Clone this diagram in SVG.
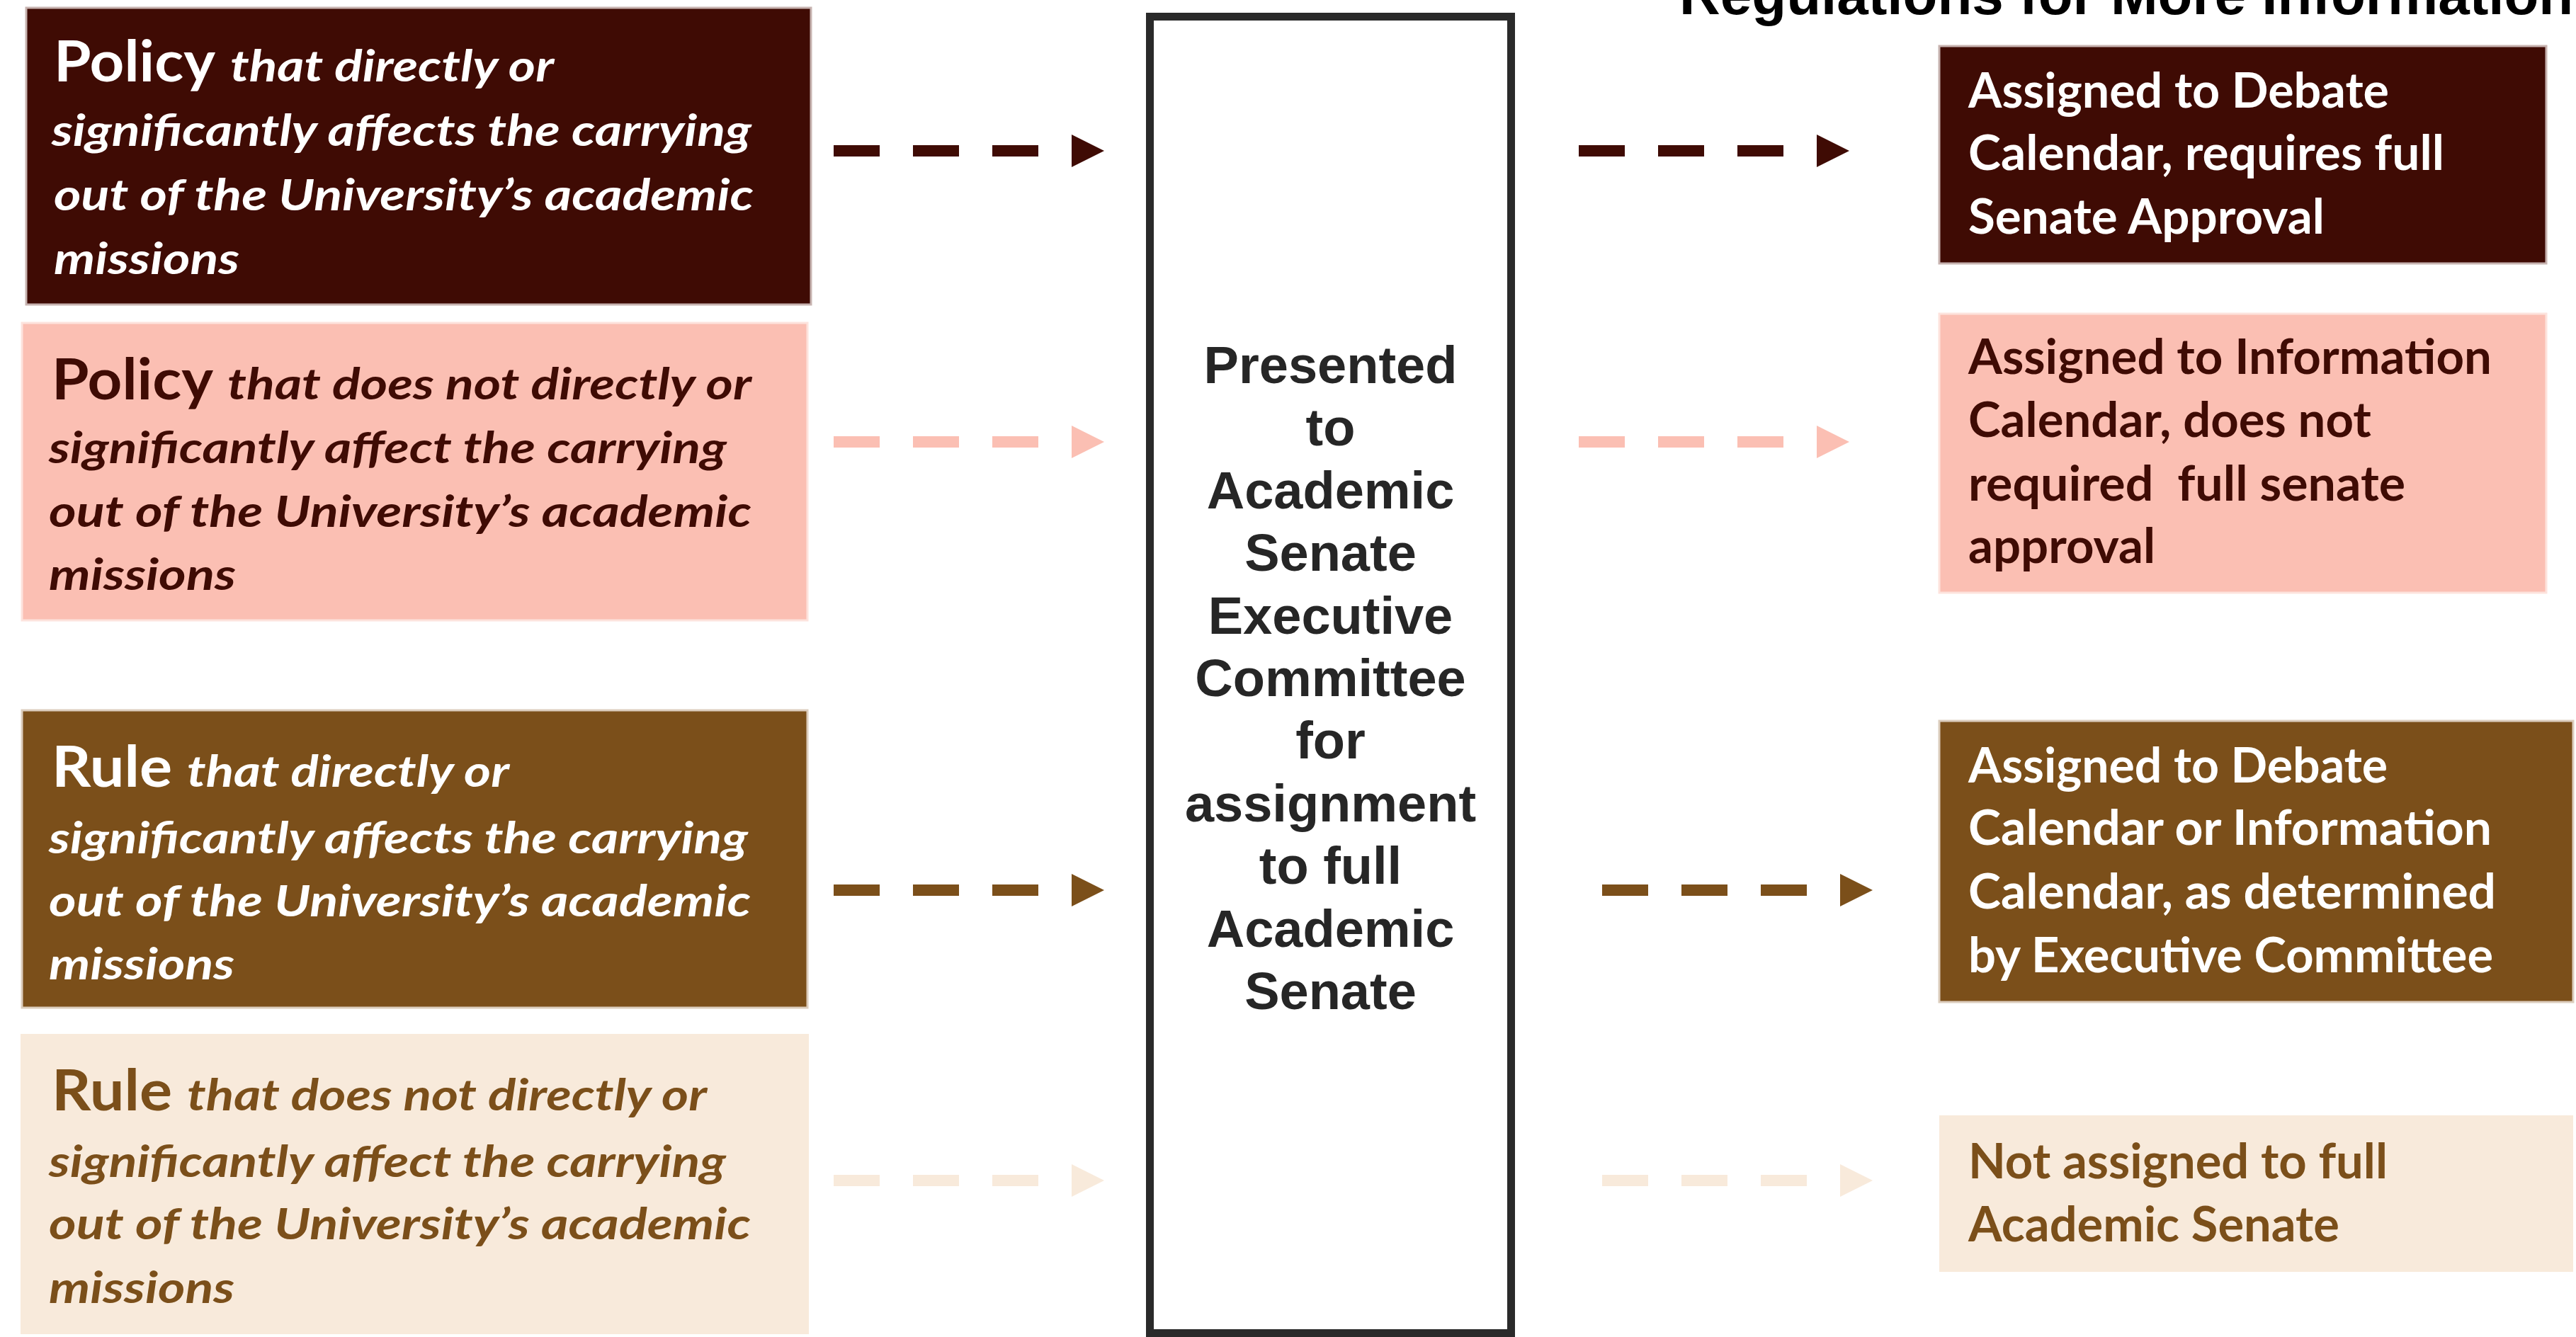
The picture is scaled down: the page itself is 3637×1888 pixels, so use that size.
<svg xmlns="http://www.w3.org/2000/svg" width="3637" height="1888" viewBox="0 0 3637 1888">
  <defs>
    <style>
      .cal { font-family: Lato, "Open Sans", "Liberation Sans", sans-serif; font-weight: 700; }
      .lead { font-size: 80px; }
      .body { font-size: 61px; font-style: italic; }
      .out { font-size: 68px; }
      .mid { font-family: "Liberation Sans", Arial, sans-serif; font-weight: 700; font-size: 74px; fill: #262626; text-anchor: middle; }
      .title { font-family: "Liberation Sans", Arial, sans-serif; font-weight: 700; font-size: 80px; fill: #000000; }
      .white { fill: #ffffff; }
      .maroon { fill: #3f0b04; }
      .brown { fill: #7b4f1a; }
      .dash { fill: none; stroke-width: 16; stroke-dasharray: 65 47; }
    </style>
    <marker id="head-maroon" markerUnits="userSpaceOnUse" markerWidth="46" markerHeight="46" refX="0" refY="23" orient="auto" viewBox="0 0 46 46">
      <polygon points="0,0 46,23 0,46" fill="#3f0b04"/>
    </marker>
    <marker id="head-pink" markerUnits="userSpaceOnUse" markerWidth="46" markerHeight="46" refX="0" refY="23" orient="auto" viewBox="0 0 46 46">
      <polygon points="0,0 46,23 0,46" fill="#fbbfb3"/>
    </marker>
    <marker id="head-brown" markerUnits="userSpaceOnUse" markerWidth="46" markerHeight="46" refX="0" refY="23" orient="auto" viewBox="0 0 46 46">
      <polygon points="0,0 46,23 0,46" fill="#7b4f1a"/>
    </marker>
    <marker id="head-beige" markerUnits="userSpaceOnUse" markerWidth="46" markerHeight="46" refX="0" refY="23" orient="auto" viewBox="0 0 46 46">
      <polygon points="0,0 46,23 0,46" fill="#f8eadb"/>
    </marker>
  </defs>

  <rect width="3637" height="1888" fill="#ffffff"/>

  <!-- heading, partly above the top edge -->
  <text class="title" x="2371" y="20">Regulations for More Information</text>

  <!-- left column: items entering review -->
  <g id="policy-significant">
    <rect x="37" y="11" width="1108" height="419" fill="#3f0b04" stroke="#c7b3b0" stroke-width="3"/>
    <text class="cal lead white" x="76" y="115" textLength="228" lengthAdjust="spacingAndGlyphs">Policy</text>
    <text class="cal body white" x="325" y="115" textLength="457" lengthAdjust="spacingAndGlyphs">that directly or</text>
    <text class="cal body white" x="73" y="206" textLength="988" lengthAdjust="spacingAndGlyphs">significantly affects the carrying</text>
    <text class="cal body white" x="76" y="297" textLength="988" lengthAdjust="spacingAndGlyphs">out of the University’s academic</text>
    <text class="cal body white" x="76" y="387" textLength="262" lengthAdjust="spacingAndGlyphs">missions</text>
  </g>

  <g id="policy-minor">
    <rect x="31" y="456" width="1109" height="420" fill="#fbbfb3" stroke="#fde3dd" stroke-width="3"/>
    <text class="cal lead maroon" x="73" y="564" textLength="228" lengthAdjust="spacingAndGlyphs">Policy</text>
    <text class="cal body maroon" x="321" y="564" textLength="740" lengthAdjust="spacingAndGlyphs">that does not directly or</text>
    <text class="cal body maroon" x="69" y="654" textLength="957" lengthAdjust="spacingAndGlyphs">significantly affect the carrying</text>
    <text class="cal body maroon" x="69" y="744" textLength="992" lengthAdjust="spacingAndGlyphs">out of the University’s academic</text>
    <text class="cal body maroon" x="69" y="833" textLength="264" lengthAdjust="spacingAndGlyphs">missions</text>
  </g>

  <g id="rule-significant">
    <rect x="31" y="1003" width="1109" height="420" fill="#7b4f1a" stroke="#dccdbd" stroke-width="3"/>
    <text class="cal lead white" x="73" y="1111" textLength="170" lengthAdjust="spacingAndGlyphs">Rule</text>
    <text class="cal body white" x="264" y="1111" textLength="455" lengthAdjust="spacingAndGlyphs">that directly or</text>
    <text class="cal body white" x="69" y="1205" textLength="987" lengthAdjust="spacingAndGlyphs">significantly affects the carrying</text>
    <text class="cal body white" x="69" y="1294" textLength="991" lengthAdjust="spacingAndGlyphs">out of the University’s academic</text>
    <text class="cal body white" x="69" y="1383" textLength="262" lengthAdjust="spacingAndGlyphs">missions</text>
  </g>

  <g id="rule-minor">
    <rect x="29" y="1460" width="1113" height="424" fill="#f8eadb"/>
    <text class="cal lead brown" x="73" y="1568" textLength="170" lengthAdjust="spacingAndGlyphs">Rule</text>
    <text class="cal body brown" x="264" y="1568" textLength="734" lengthAdjust="spacingAndGlyphs">that does not directly or</text>
    <text class="cal body brown" x="69" y="1662" textLength="956" lengthAdjust="spacingAndGlyphs">significantly affect the carrying</text>
    <text class="cal body brown" x="69" y="1750" textLength="991" lengthAdjust="spacingAndGlyphs">out of the University’s academic</text>
    <text class="cal body brown" x="69" y="1840" textLength="262" lengthAdjust="spacingAndGlyphs">missions</text>
  </g>

  <!-- centre: executive committee review -->
  <g id="executive-committee">
    <rect x="1623.5" y="23.5" width="510" height="1859" fill="#ffffff" stroke="#2a2a2a" stroke-width="11"/>
    <text class="mid" x="1878.5" y="541">Presented</text>
    <text class="mid" x="1878.5" y="629">to</text>
    <text class="mid" x="1878.5" y="718">Academic</text>
    <text class="mid" x="1878.5" y="806">Senate</text>
    <text class="mid" x="1878.5" y="895">Executive</text>
    <text class="mid" x="1878.5" y="983">Committee</text>
    <text class="mid" x="1878.5" y="1071">for</text>
    <text class="mid" x="1878.5" y="1160">assignment</text>
    <text class="mid" x="1878.5" y="1248">to full</text>
    <text class="mid" x="1878.5" y="1337">Academic</text>
    <text class="mid" x="1878.5" y="1425">Senate</text>
  </g>

  <!-- right column: outcomes -->
  <g id="debate-calendar">
    <rect x="2738" y="65" width="857" height="307" fill="#3f0b04" stroke="#c7b3b0" stroke-width="3"/>
    <text class="cal out white" x="2779" y="152" textLength="594" lengthAdjust="spacingAndGlyphs">Assigned to Debate</text>
    <text class="cal out white" x="2779" y="240" textLength="672" lengthAdjust="spacingAndGlyphs">Calendar, requires full</text>
    <text class="cal out white" x="2779" y="330" textLength="503" lengthAdjust="spacingAndGlyphs">Senate Approval</text>
  </g>

  <g id="information-calendar">
    <rect x="2738" y="443" width="857" height="394" fill="#fbbfb3" stroke="#fde3dd" stroke-width="3"/>
    <text class="cal out maroon" x="2779" y="528" textLength="739" lengthAdjust="spacingAndGlyphs">Assigned to Information</text>
    <text class="cal out maroon" x="2779" y="617" textLength="569" lengthAdjust="spacingAndGlyphs">Calendar, does not</text>
    <text class="cal out maroon" x="2779" y="707" textLength="617" lengthAdjust="spacingAndGlyphs">required&#160; full senate</text>
    <text class="cal out maroon" x="2779" y="795" textLength="264" lengthAdjust="spacingAndGlyphs">approval</text>
  </g>

  <g id="committee-decides">
    <rect x="2738" y="1018" width="895" height="397" fill="#7b4f1a" stroke="#dccdbd" stroke-width="3"/>
    <text class="cal out white" x="2779" y="1105" textLength="592" lengthAdjust="spacingAndGlyphs">Assigned to Debate</text>
    <text class="cal out white" x="2779" y="1193" textLength="739" lengthAdjust="spacingAndGlyphs">Calendar or Information</text>
    <text class="cal out white" x="2779" y="1283" textLength="745" lengthAdjust="spacingAndGlyphs">Calendar, as determined</text>
    <text class="cal out white" x="2779" y="1373" textLength="741" lengthAdjust="spacingAndGlyphs">by Executive Committee</text>
  </g>

  <g id="not-assigned">
    <rect x="2738" y="1575" width="895" height="221" fill="#f8eadb"/>
    <text class="cal out brown" x="2779" y="1664" textLength="592" lengthAdjust="spacingAndGlyphs">Not assigned to full</text>
    <text class="cal out brown" x="2779" y="1753" textLength="524" lengthAdjust="spacingAndGlyphs">Academic Senate</text>
  </g>

  <!-- dashed connectors -->
  <g id="connectors">
    <line class="dash" x1="1177" y1="213" x2="1513" y2="213" stroke="#3f0b04" marker-end="url(#head-maroon)"/>
    <line class="dash" x1="1177" y1="624" x2="1513" y2="624" stroke="#fbbfb3" marker-end="url(#head-pink)"/>
    <line class="dash" x1="1177" y1="1257" x2="1513" y2="1257" stroke="#7b4f1a" marker-end="url(#head-brown)"/>
    <line class="dash" x1="1177" y1="1667" x2="1513" y2="1667" stroke="#f8eadb" marker-end="url(#head-beige)"/>

    <line class="dash" x1="2229" y1="213" x2="2565" y2="213" stroke="#3f0b04" marker-end="url(#head-maroon)"/>
    <line class="dash" x1="2229" y1="624" x2="2565" y2="624" stroke="#fbbfb3" marker-end="url(#head-pink)"/>
    <line class="dash" x1="2262" y1="1257" x2="2598" y2="1257" stroke="#7b4f1a" marker-end="url(#head-brown)"/>
    <line class="dash" x1="2262" y1="1667" x2="2598" y2="1667" stroke="#f8eadb" marker-end="url(#head-beige)"/>
  </g>
</svg>
